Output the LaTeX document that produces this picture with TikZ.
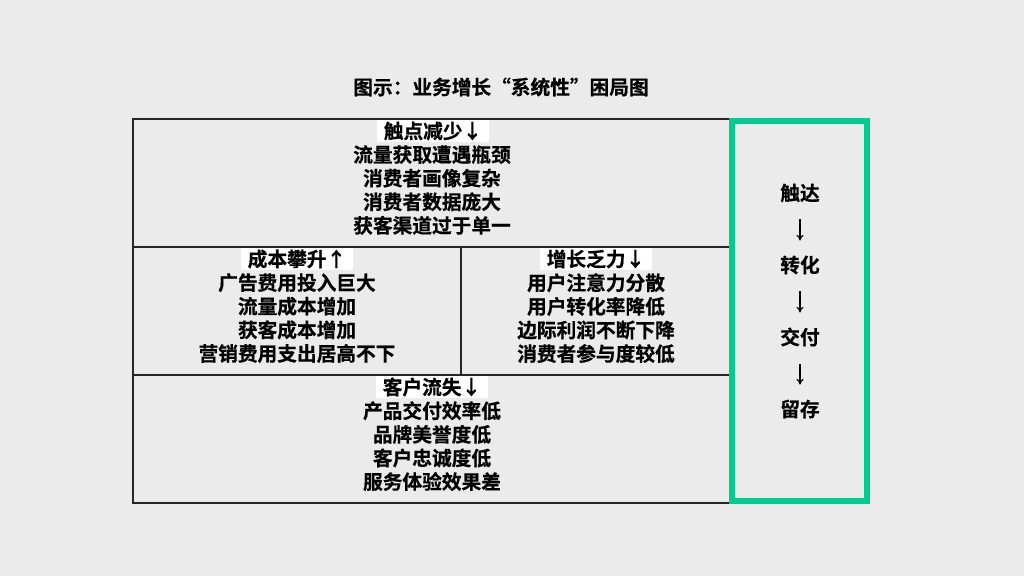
\documentclass[tikz,border=0pt]{standalone}
\usepackage{fontspec}
\setmainfont{Noto Sans CJK SC}[BoldFont={Noto Sans CJK SC Bold},
  BoldFeatures={FakeBold=0.6}]
\usetikzlibrary{arrows.meta,positioning}

\definecolor{pagegray}{RGB}{235,235,235}
\definecolor{stagegreen}{RGB}{0,204,146}

\begin{document}
\begin{tikzpicture}[
  x=0.025cm, y=-0.025cm,
  cell/.style={line width=1pt, black!85},
  head/.style={fill=white, inner xsep=4.5pt, inner ysep=1pt,
    font=\bfseries\fontsize{14}{16.7}\selectfont},
  items/.style={align=center, inner sep=0pt, anchor=north,
    font=\bfseries\fontsize{14}{16.8}\selectfont},
  stage/.style={inner sep=0pt, font=\bfseries\fontsize{14}{16.7}\selectfont},
  flow/.style={-{To[length=4pt,width=5pt]}, line width=0.8pt,
    shorten <=12pt, shorten >=10.5pt},
  every node/.style={text=black}]

% ---- page and title ---------------------------------------------------
\fill[pagegray] (0,0) rectangle (1024,576);
\useasboundingbox (0,0) rectangle (1024,576);
\node[stage] (title) at (501,87) {图示：业务增长“系统性”困局图};

% ---- the grid of four cells -------------------------------------------
\draw[cell] (133,119) rectangle (731,503);
\draw[cell] (133,247) -- (731,247) (133,375) -- (731,375);
\draw[cell] (461,247) -- (461,375);

% ---- top: touch points --------------------------------------------------
\node[head] (touch) at (433,131) {触点减少↓};
\node[items] (touchlist) at (432,145)
  {流量获取遭遇瓶颈\\消费者画像复杂\\消费者数据庞大\\获客渠道过于单一};

% ---- middle left: cost ----------------------------------------------------
\node[head] (cost) at (297,259) {成本攀升↑};
\node[items] (costlist) at (297,273)
  {广告费用投入巨大\\流量成本增加\\获客成本增加\\营销费用支出居高不下};

% ---- middle right: growth ---------------------------------------------
\node[head] (growth) at (596,259) {增长乏力↓};
\node[items] (growthlist) at (596,273)
  {用户注意力分散\\用户转化率降低\\边际利润不断下降\\消费者参与度较低};

% ---- bottom: churn --------------------------------------------------------
\node[head] (churn) at (432,387) {客户流失↓};
\node[items] (churnlist) at (432,401)
  {产品交付效率低\\品牌美誉度低\\客户忠诚度低\\服务体验效果差};

% ---- right: the four stages ---------------------------------------------
\draw[stagegreen, line width=4.2pt] (732,121) rectangle (867,501);
\node[stage] (reach)   at (800,193) {触达};
\node[stage] (convert) at (800,265) {转化};
\node[stage] (deliver) at (800,337) {交付};
\node[stage] (retain)  at (800,409) {留存};
\draw[flow] (reach) -- (convert);
\draw[flow] (convert) -- (deliver);
\draw[flow] (deliver) -- (retain);

\end{tikzpicture}
\end{document}
